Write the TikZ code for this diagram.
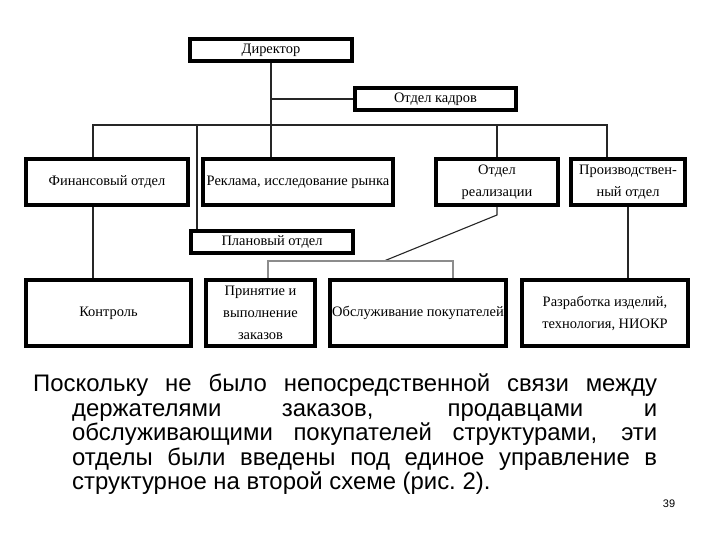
\documentclass[tikz,border=0pt]{standalone}
\usepackage{fontspec}
\setmainfont{Liberation Sans}
\newfontfamily\boxfont{Liberation Serif}
\usetikzlibrary{positioning}

\begin{document}
\begin{tikzpicture}[
    x=1bp, y=-1bp,
    unit/.style={rectangle, draw, line width=3.6bp, inner sep=1bp, align=center, font=\boxfont\fontsize{14.5}{22}\selectfont},
    link/.style={draw, line width=1.1bp, black!85},
    graylink/.style={draw, line width=1.3bp, black!45}
]
\useasboundingbox (0,0) rectangle (720,540);

\node [unit, minimum width=162.4bp, minimum height=22.4bp] (dir) at (271,50) {Директор};
\node [unit, minimum width=161.4bp, minimum height=22.4bp] (kadry) at (435.5,99) {Отдел кадров};
\node [unit, minimum width=162.4bp, minimum height=46.4bp] (fin) at (107,182) {Финансовый отдел};
\node [unit, minimum width=190.4bp, minimum height=46.4bp] (rekl) at (298,182) {Реклама, исследование рынка};
\node [unit, minimum width=122.4bp, minimum height=46.4bp] (real) at (497,182) {Отдел\\ реализации};
\node [unit, minimum width=114.4bp, minimum height=46.4bp] (prod) at (628,182) {Производствен-\\ный отдел};
\node [unit, minimum width=162.4bp, minimum height=22.4bp] (plan) at (272,242) {Плановый отдел};
\node [unit, minimum width=165.4bp, minimum height=66.4bp] (kontr) at (108.5,313) {Контроль};
\node [unit, minimum width=109.4bp, minimum height=66.4bp] (prin) at (260.5,313) {Принятие и\\ выполнение\\ заказов};
\node [unit, minimum width=176.4bp, minimum height=66.4bp] (obsl) at (418,313) {Обслуживание покупателей};
\node [unit, minimum width=166.4bp, minimum height=66.4bp] (razr) at (605,313) {Разработка изделий,\\ технология, НИОКР};

% шина под директором
\coordinate (busL) at (93,125);
\coordinate (busR) at (607,125);
\coordinate (busP) at (197,125);
\coordinate (grayL) at (268,261);
\coordinate (grayR) at (453,261);
\coordinate (grayM) at (384,261);

\draw [link] (dir.south) -- (dir.south |- rekl.north);
\draw [link] (dir.south |- kadry.west) -- (kadry.west);
\draw [link] (busL |- fin.north) -- (busL) -- (busR) -- (busR |- prod.north);
\draw [link] (busP) -- (busP |- plan.north);
\draw [link] (real.north |- busL) -- (real.north);
\draw [link] (busL |- fin.south) -- (busL |- kontr.north);
\draw [link] (prod.south) -- (prod.south |- razr.north);
\draw [link] (real.south) -- ++(0,8) -- (grayM);
\draw [graylink] (grayL |- prin.north) -- (grayL) -- (grayR) -- (grayR |- obsl.north);

\node [anchor=north west, inner sep=0pt] (para) at (33,374)
  {\parbox[t]{624bp}{\fontsize{24}{24.5}\selectfont
   \leftskip=0pt \rightskip=0pt \parfillskip=0pt plus 1fil
   \hangindent=39bp \hangafter=1 \noindent
   Поскольку не было непосредственной связи между\linebreak
   держателями заказов, продавцами и\linebreak
   обслуживающими покупателей структурами, эти\linebreak
   отделы были введены под единое управление в\linebreak
   структурное на второй схеме (рис.~2).\par}};
\node [font=\fontsize{11}{13}\selectfont, inner sep=0pt] (pnum) at (669,504) {39};

\end{tikzpicture}
\end{document}
